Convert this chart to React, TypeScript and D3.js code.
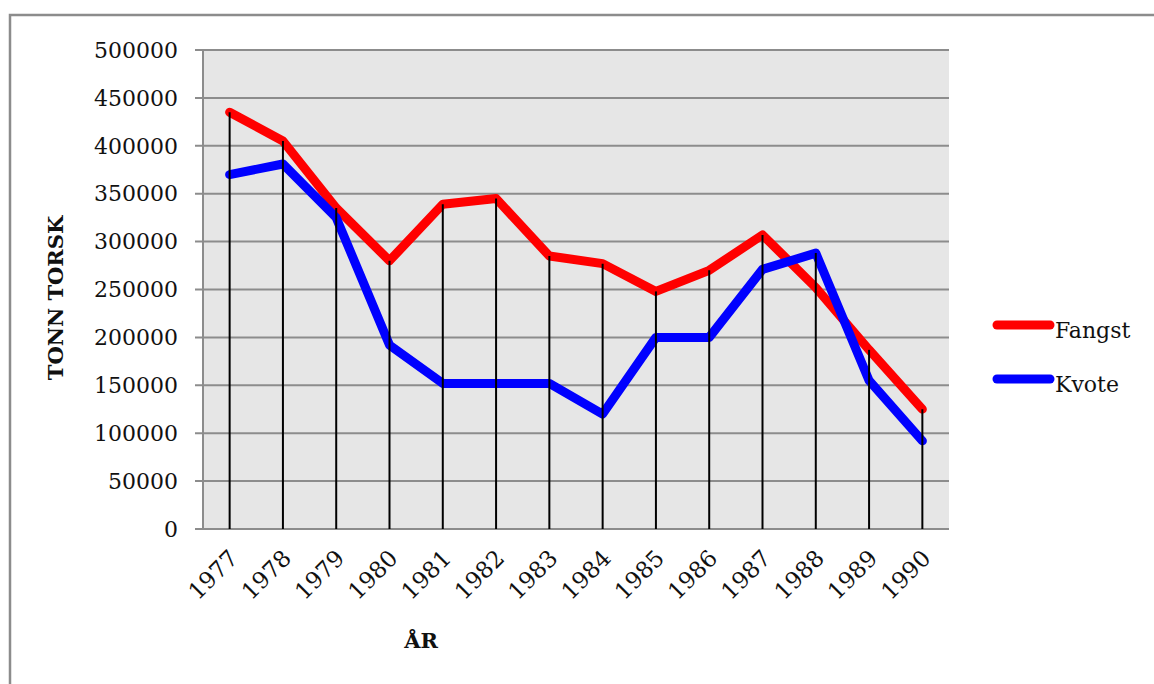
import React from "react";
import * as d3 from "d3";

const years = ["1977","1978","1979","1980","1981","1982","1983","1984","1985","1986","1987","1988","1989","1990"];
const fangst = [435000,405000,335000,280000,339000,345000,285000,277000,248000,270000,307000,252000,187000,125000];
const kvote = [370000,381000,325000,192000,152000,152000,152000,120000,200000,200000,271000,288000,155000,92000];
const yTicks = [0,50000,100000,150000,200000,250000,300000,350000,400000,450000,500000];
const seriesNames = ["Fangst","Kvote"];
const seriesColors = ["#ff0000","#0000ff"];

const W = 1154, H = 684;
const FONT = "'DejaVu Serif', serif";

export default function App() {
  const x = d3.scaleBand<string>().domain(years).range([203, 949]).padding(0);
  const cx = (d: string) => (x(d) as number) + x.bandwidth() / 2;
  const y = d3.scaleLinear().domain([0, 500000]).range([529, 50]);
  const line = d3.line<number>().x((_, i) => cx(years[i])).y(v => y(v));
  const series = [fangst, kvote];

  return (
    <svg width={W} height={H} style={{ position: "absolute", left: 0, top: 0, background: "#fff" }}>
      <path d="M10,700 V15 H1170" fill="none" stroke="#8c8c8c" strokeWidth={2.5} />
      <rect x={203} y={50} width={949 - 203} height={529 - 50} fill="#e6e6e6" />
      {yTicks.map(t => (
        <g key={t}>
          <line x1={195} x2={949} y1={y(t)} y2={y(t)} stroke="#8c8c8c" strokeWidth={2} />
          <text x={178} y={y(t)} dy="0.35em" textAnchor="end" fontFamily={FONT} fontSize={22} fill="#111">{t}</text>
        </g>
      ))}
      <line x1={203} x2={203} y1={50} y2={529} stroke="#8c8c8c" strokeWidth={2} />
      {series.map((s, k) => (
        <path key={k} d={line(s) as string} fill="none" stroke={seriesColors[k]} strokeWidth={9} strokeLinecap="round" strokeLinejoin="round" />
      ))}
      {years.map((yr, i) => (
        <line key={yr} x1={cx(yr)} x2={cx(yr)} y1={y(Math.max(fangst[i], kvote[i]))} y2={y(0)} stroke="#000" strokeWidth={2} />
      ))}
      {years.map(yr => (
        <text key={yr} transform={`translate(${cx(yr) + 4},${554}) rotate(-45)`} textAnchor="end" dy="0.35em" fontFamily={FONT} fontSize={23} fill="#111">{yr}</text>
      ))}
      <text x={421} y={648} textAnchor="middle" fontFamily={FONT} fontSize={21} fontWeight="bold" fill="#111">ÅR</text>
      <text transform="translate(63,298) rotate(-90)" textAnchor="middle" fontFamily={FONT} fontSize={21} fontWeight="bold" fill="#111">TONN TORSK</text>
      {seriesNames.map((n, k) => (
        <g key={n}>
          <line x1={997} x2={1050} y1={325 + k * 54} y2={325 + k * 54} stroke={seriesColors[k]} strokeWidth={9} strokeLinecap="round" />
          <text x={1055} y={338 + k * 54} fontFamily={FONT} fontSize={22} fill="#111">{n}</text>
        </g>
      ))}
    </svg>
  );
}
